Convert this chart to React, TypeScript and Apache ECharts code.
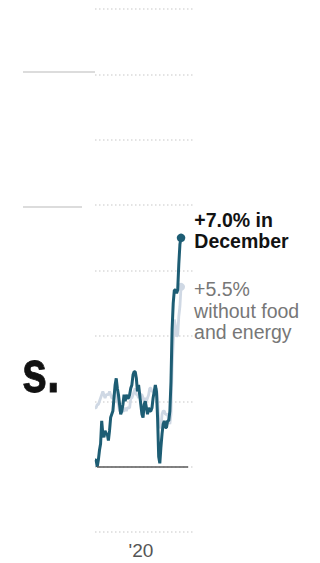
import React, { useEffect, useRef } from "react";
import * as echarts from "echarts";

// Months shown (July 2015 – December 2021)
const months: string[] = [
  "2015-07","2015-08","2015-09","2015-10","2015-11","2015-12",
  "2016-01","2016-02","2016-03","2016-04","2016-05","2016-06","2016-07","2016-08","2016-09","2016-10","2016-11","2016-12",
  "2017-01","2017-02","2017-03","2017-04","2017-05","2017-06","2017-07","2017-08","2017-09","2017-10","2017-11","2017-12",
  "2018-01","2018-02","2018-03","2018-04","2018-05","2018-06","2018-07","2018-08","2018-09","2018-10","2018-11","2018-12",
  "2019-01","2019-02","2019-03","2019-04","2019-05","2019-06","2019-07","2019-08","2019-09","2019-10","2019-11","2019-12",
  "2020-01","2020-02","2020-03","2020-04","2020-05","2020-06","2020-07","2020-08","2020-09","2020-10","2020-11","2020-12",
  "2021-01","2021-02","2021-03","2021-04","2021-05","2021-06","2021-07","2021-08","2021-09","2021-10","2021-11","2021-12",
];

// Year-over-year change in consumer prices, %
const allItems: number[] = [
  0.2, 0.2, 0.0, 0.2, 0.5, 0.7,
  1.4, 1.0, 0.9, 1.1, 1.0, 1.0, 0.8, 1.1, 1.5, 1.6, 1.7, 2.1,
  2.5, 2.7, 2.4, 2.2, 1.9, 1.6, 1.7, 1.9, 2.2, 2.0, 2.2, 2.1,
  2.1, 2.2, 2.4, 2.5, 2.8, 2.9, 2.9, 2.7, 2.3, 2.5, 2.2, 1.9,
  1.6, 1.5, 1.9, 2.0, 1.8, 1.6, 1.8, 1.7, 1.7, 1.8, 2.1, 2.3,
  2.5, 2.3, 1.5, 0.3, 0.1, 0.6, 1.0, 1.3, 1.4, 1.2, 1.2, 1.4,
  1.4, 1.7, 2.6, 4.2, 5.0, 5.4, 5.4, 5.3, 5.4, 6.2, 6.8, 7.0,
];

// Without food and energy, %
const core: number[] = [
  1.8, 1.8, 1.9, 1.9, 2.0, 2.1,
  2.2, 2.3, 2.2, 2.1, 2.2, 2.2, 2.2, 2.3, 2.2, 2.1, 2.1, 2.2,
  2.3, 2.2, 2.0, 1.9, 1.7, 1.7, 1.7, 1.7, 1.7, 1.8, 1.7, 1.8,
  1.8, 1.8, 2.1, 2.1, 2.2, 2.3, 2.4, 2.2, 2.2, 2.1, 2.2, 2.2,
  2.2, 2.1, 2.0, 2.1, 2.0, 2.1, 2.2, 2.4, 2.4, 2.3, 2.3, 2.3,
  2.3, 2.4, 2.1, 1.4, 1.2, 1.2, 1.6, 1.7, 1.7, 1.6, 1.6, 1.6,
  1.4, 1.3, 1.6, 3.0, 3.8, 4.5, 4.3, 4.0, 4.0, 4.6, 4.9, 5.5,
];

const xTickLabels = [{ month: "2020-01", label: "'20" }];
const allItemsLabel = ["+7.0% in", "December"];
const coreLabel = ["+5.5%", "without food", "and energy"];
const headlineTail = "s.";

const monthIndex = (s: string) => {
  const [y, m] = s.split("-").map(Number);
  return (y - 2015) * 12 + (m - 1);
};

const DARK = "#1d5d74";
const LIGHT = "#cfd8e4";
const FONT = "'Liberation Sans', Arial, sans-serif";

function buildSeriesData(values: number[], endStyle: any) {
  return values.map((v, i) => {
    const x = monthIndex(months[i]);
    if (i === values.length - 1) {
      return { value: [x, v], ...endStyle };
    }
    return [x, v];
  });
}

export default function App() {
  const ref = useRef<HTMLDivElement>(null);
  useEffect(() => {
    if (!ref.current) return;
    const chart = echarts.init(ref.current, null, { renderer: "svg" });
    const xMin = monthIndex(months[0]);
    const xMax = xMin + 87.7;
    const tickMap: Record<number, string> = {};
    xTickLabels.forEach((t) => (tickMap[monthIndex(t.month)] = t.label));

    chart.setOption({
      animation: false,
      grid: { left: 95, right: 127, top: 9, bottom: 31 },
      xAxis: {
        type: "value",
        min: xMin,
        max: xMax,
        axisLine: { show: false },
        axisTick: { show: false },
        splitLine: { show: false },
        axisLabel: {
          customValues: xTickLabels.map((t) => monthIndex(t.month)),
          formatter: (v: number) => tickMap[v] ?? "",
          align: "right",
          padding: [0, 2, 0, 0],
          margin: 9,
          color: "#555",
          fontSize: 19,
          fontFamily: FONT,
        },
      },
      yAxis: {
        type: "value",
        min: -2,
        max: 14,
        interval: 2,
        axisLine: { show: false },
        axisTick: { show: false },
        axisLabel: { show: false },
        splitLine: {
          lineStyle: { color: "#dadada", width: 1.5, type: [1.5, 2.5] },
        },
      },
      series: [
        {
          type: "line",
          name: "core",
          symbol: "none",
          showSymbol: true,
          lineStyle: { color: LIGHT, width: 2.8 },
          z: 2,
          data: buildSeriesData(core, {
            symbol: "circle",
            symbolSize: 8,
            itemStyle: { color: LIGHT },
            label: {
              show: true,
              position: "right",
              distance: 9,
              offset: [0, 24],
              formatter: coreLabel.join("\n"),
              color: "#777",
              fontSize: 19.5,
              lineHeight: 21.5,
              fontFamily: FONT,
              align: "left",
            },
          }),
        },
        {
          type: "line",
          name: "all",
          symbol: "none",
          showSymbol: true,
          lineStyle: { color: DARK, width: 3 },
          z: 3,
          data: buildSeriesData(allItems, {
            symbol: "circle",
            symbolSize: 8.5,
            itemStyle: { color: DARK },
            label: {
              show: true,
              position: "right",
              distance: 9,
              offset: [0, -7],
              formatter: allItemsLabel.join("\n"),
              color: "#121212",
              fontWeight: "bold",
              fontSize: 19.5,
              lineHeight: 21,
              fontFamily: FONT,
              align: "left",
            },
          }),
          markLine: {
            silent: true,
            symbol: "none",
            label: { show: false },
            lineStyle: { color: "#5a5a5a", width: 1.6, type: "solid" },
            data: [[{ coord: [xMin + 1.8, 0] }, { coord: [xMin + 83.3, 0] }]],
          },
        },
      ],
      graphic: [
        {
          type: "line",
          shape: { x1: 23, y1: 72, x2: 95, y2: 72 },
          style: { stroke: "#dcdcdc", lineWidth: 2 },
        },
        {
          type: "line",
          shape: { x1: 23, y1: 207, x2: 82, y2: 207 },
          style: { stroke: "#dcdcdc", lineWidth: 2 },
        },
        {
          type: "text",
          x: 22,
          y: 371,
          scaleX: 0.75,
          style: {
            text: headlineTail,
            font: `900 60px ${FONT}`,
            fill: "#111",
            stroke: "#111",
            lineWidth: 0.8,
            textAlign: "left",
            textVerticalAlign: "middle",
            verticalAlign: "middle",
          },
        },
      ],
    });
    return () => chart.dispose();
  }, []);
  return (
    <div
      ref={ref}
      style={{ position: "absolute", left: 0, top: 0, width: 320, height: 563 }}
    />
  );
}
